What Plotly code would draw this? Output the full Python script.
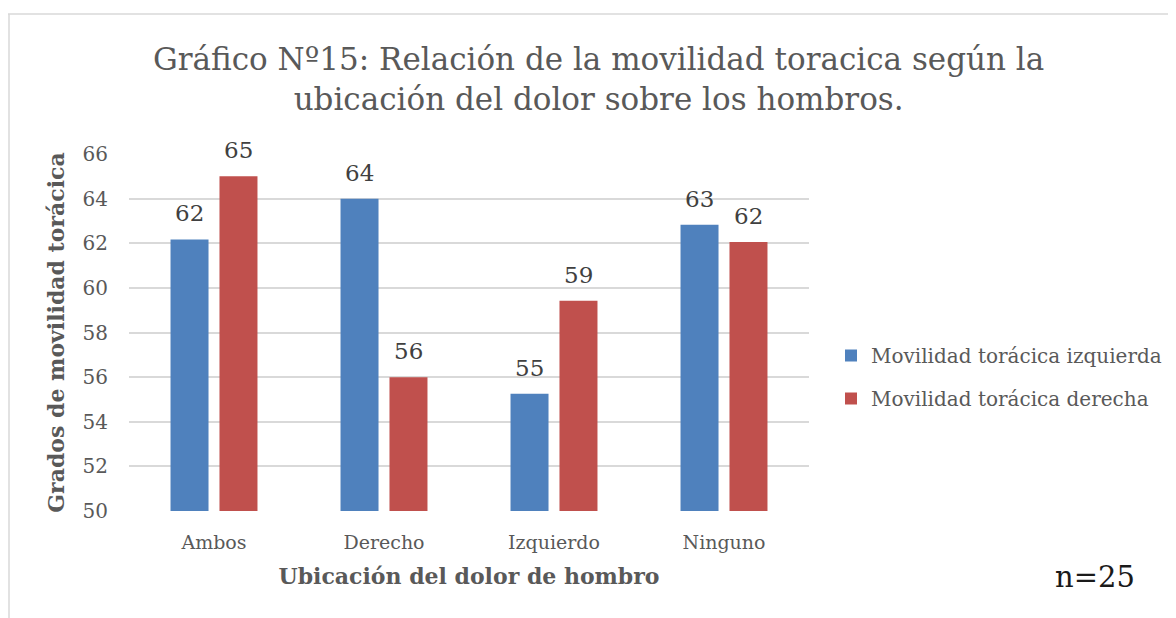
import plotly.graph_objects as go

categories = ["Ambos", "Derecho", "Izquierdo", "Ninguno"]
izquierda = [62.17, 64.0, 55.26, 62.83]
derecha = [65.0, 56.0, 59.42, 62.06]
series_names = ["Movilidad torácica izquierda", "Movilidad torácica derecha"]
yticks = [50, 52, 54, 56, 58, 60, 62, 64, 66]

FONT = "DejaVu Serif"
GREY = "#595959"
BLUE, RED = "#4F81BD", "#C0504D"
BARGAP, GROUPGAP = 0.424, 0.224

# the page body adds an 8px margin, so figure coords = screen coords - 8
OFF = 8
W, H = 1176, 618
L, T = 129 - OFF, 154 - OFF
R = W - (809 - OFF)
B = H - (511 - OFF)
pw, ph = W - L - R, H - T - B

def px(xs):
    return (xs - OFF - L) / pw

def py(ys):
    return (H - B - (ys - OFF)) / ph

fig = go.Figure()
fig.add_bar(x=categories, y=izquierda, name=series_names[0], legendgroup="a",
            marker=dict(color=BLUE, line=dict(width=0)))
fig.add_bar(x=categories, y=derecha, name=series_names[1], legendgroup="b",
            marker=dict(color=RED, line=dict(width=0)))

# value labels placed above each bar (bar centre offset derived from gap settings)
slot = (1 - BARGAP) / 2
annotations = []
for i, cat in enumerate(categories):
    for vals, sign in ((izquierda, -1), (derecha, 1)):
        annotations.append(dict(
            x=i + sign * slot / 2, y=vals[i], xref="x", yref="y",
            text=f"{vals[i]:.0f}", showarrow=False, yanchor="middle", yshift=26,
            font=dict(family=FONT, size=23, color="#404040")))

annotations += [
    dict(text="Gráfico Nº15: Relación de la movilidad toracica según la<br>ubicación del dolor sobre los hombros.",
         x=px(598), y=py(79), xref="paper", yref="paper", showarrow=False,
         xanchor="center", yanchor="middle",
         font=dict(family=FONT, size=31, color=GREY)),
    dict(text="n=25", x=px(1095), y=py(577), xref="paper", yref="paper",
         showarrow=False, xanchor="center", yanchor="middle",
         font=dict(family=FONT, size=29, color="#1a1a1a")),
]

fig.update_layout(
    width=W, height=H,
    margin=dict(l=L, r=R, t=T, b=B, pad=0),
    paper_bgcolor="white", plot_bgcolor="white",
    barmode="group", bargap=BARGAP, bargroupgap=GROUPGAP,
    font=dict(family=FONT, color=GREY),
    showlegend=True,
    legend=dict(x=px(831), y=py(336), xanchor="left", yanchor="top",
                font=dict(family=FONT, size=20, color=GREY),
                itemwidth=30, tracegroupgap=14, bgcolor="rgba(0,0,0,0)"),
    xaxis=dict(showgrid=False, showline=False, ticks="", range=[-0.5, 3.5],
               tickfont=dict(family=FONT, size=19, color=GREY), ticklabelstandoff=18,
               title=dict(text="<b>Ubicación del dolor de hombro</b>",
                          font=dict(family=FONT, size=22, color=GREY), standoff=16)),
    yaxis=dict(range=[50, 66], tickvals=yticks, showgrid=True, gridcolor="#D9D9D9",
               gridwidth=1.5, zeroline=False, showline=False, ticks="",
               tickfont=dict(family=FONT, size=20, color=GREY), ticklabelstandoff=20,
               title=dict(text="<b>Grados de movilidad torácica</b>",
                          font=dict(family=FONT, size=22, color=GREY), standoff=11)),
    annotations=annotations,
    shapes=[
        dict(type="line", xref="paper", yref="paper", x0=px(8), x1=px(1184),
             y0=py(14), y1=py(14), line=dict(color="#D9D9D9", width=1.5)),
        dict(type="line", xref="paper", yref="paper", x0=px(9), x1=px(9),
             y0=py(14), y1=py(626), line=dict(color="#D9D9D9", width=1.5)),
    ],
)

fig.write_html("out.html")
